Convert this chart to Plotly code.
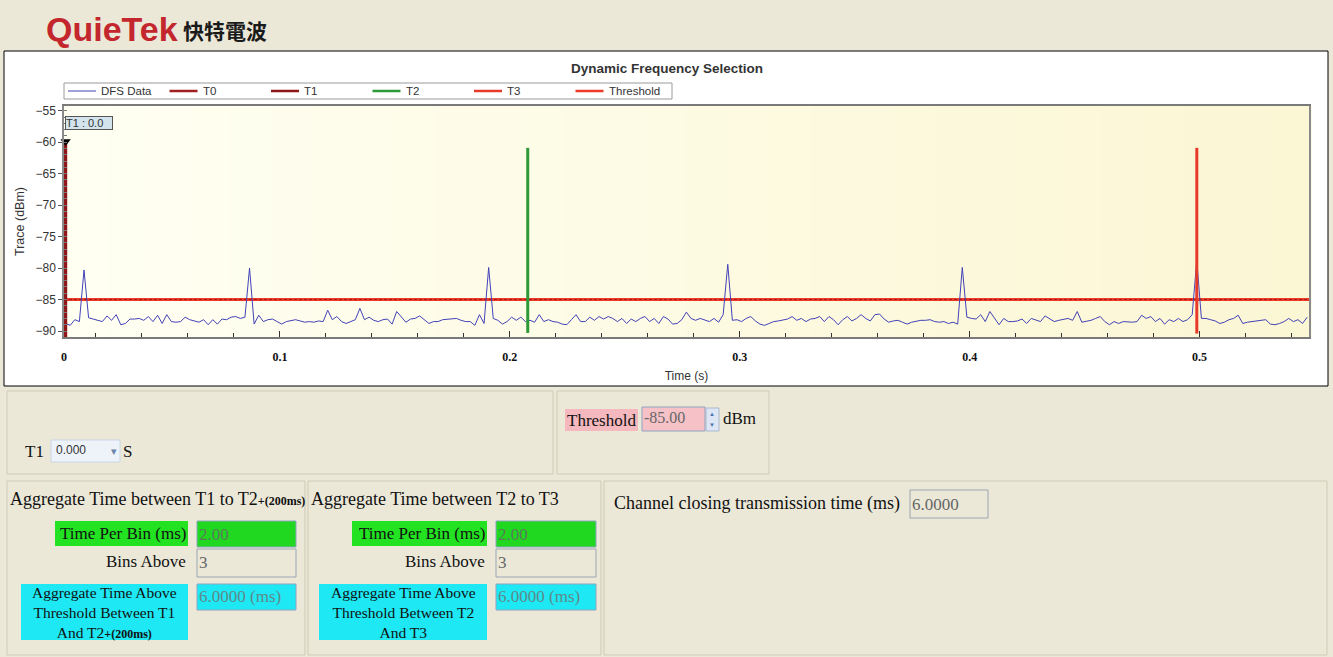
import plotly.graph_objects as go

W, H = 1333, 657

# ------------------------------------------------------------------ data
BIN_MS = 2.00                 # time per bin
T_START_S = 0.0068            # time of first bin
DFS_DBM = [
    -88.8, -89.1, -88.2, -88.5, -80.3, -87.9, -88.1, -88.3, -88.5, -87.6,
    -88.3, -87.4, -89.0, -88.8, -88.1, -88.1, -88.0, -88.3, -87.7, -88.5,
    -87.5, -88.8, -87.4, -88.5, -88.6, -88.5, -87.8, -88.2, -88.4, -88.6,
    -88.2, -89.0, -88.2, -88.9, -88.1, -88.2, -87.8, -87.7, -88.0, -87.8,
    -80.0, -88.9, -87.5, -88.5, -88.2, -88.1, -88.5, -88.9, -88.5, -88.3,
    -88.2, -88.4, -88.6, -88.5, -88.6, -88.4, -88.5, -86.7, -88.2, -87.7,
    -88.5, -88.8, -88.5, -88.2, -86.4, -88.2, -87.8, -88.3, -88.5, -88.2,
    -88.1, -88.9, -86.9, -87.8, -88.6, -88.1, -88.0, -87.6, -88.2, -88.8,
    -88.5, -88.5, -88.2, -88.1, -88.0, -88.0, -88.3, -88.5, -88.5, -89.1,
    -87.4, -88.8, -79.9, -88.0, -88.3, -88.9, -88.5, -87.8, -88.3, -87.8,
    -88.5, -88.3, -88.6, -87.4, -88.5, -88.2, -88.5, -88.6, -88.9, -89.0,
    -88.2, -87.4, -88.5, -88.5, -87.8, -88.3, -87.7, -88.1, -87.7, -88.0,
    -88.5, -88.0, -88.8, -88.1, -88.5, -88.0, -87.7, -88.5, -88.0, -88.8,
    -87.7, -88.1, -88.9, -88.8, -88.2, -87.0, -88.0, -88.3, -88.0, -88.2,
    -88.5, -88.0, -88.6, -87.4, -79.4, -88.3, -88.2, -88.5, -88.0, -87.7,
    -88.4, -88.9, -89.1, -88.8, -88.5, -88.4, -88.2, -88.1, -87.7, -88.3,
    -88.0, -88.5, -88.1, -88.0, -87.7, -88.5, -87.7, -88.2, -89.0, -88.2,
    -87.7, -88.4, -88.0, -87.4, -88.0, -88.4, -87.4, -87.3, -88.1, -88.6,
    -88.4, -88.3, -88.6, -88.9, -88.6, -88.4, -88.3, -88.3, -88.2, -88.5,
    -88.6, -88.5, -88.8, -88.6, -88.9, -79.9, -87.8, -88.0, -88.1, -87.4,
    -88.5, -86.9, -88.0, -89.0, -88.0, -88.5, -88.5, -88.4, -88.1, -88.8,
    -88.0, -88.2, -88.5, -87.6, -88.0, -88.5, -88.3, -88.2, -88.0, -88.3,
    -86.9, -88.6, -88.5, -88.3, -88.0, -87.7, -88.5, -89.0, -88.5, -88.8,
    -88.5, -88.6, -88.6, -88.5, -87.5, -88.0, -87.7, -88.5, -88.0, -88.9,
    -88.2, -88.5, -88.0, -88.5, -88.2, -87.4, -78.8, -88.0, -88.0, -88.2,
    -88.4, -88.8, -88.6, -88.2, -88.0, -87.5, -88.8, -88.6, -88.5, -88.3,
    -88.2, -88.2, -88.9, -89.0, -88.8, -88.5, -88.0, -88.5, -88.2, -88.8,
    -87.8,
]
CURSOR_NAMES = ["T0", "T1", "T2", "T3"]
CURSOR_TIME_S = [0.0068, 0.0068, 0.2078, 0.4988]
CURSOR_TOP_DBM = [-59.9, -59.9, -60.9, -60.9]
CURSOR_BOTTOM_DBM = [-91.0, -91.0, -90.3, -90.4]
THRESHOLD_DBM = -85.0
T1_TAG = "T1 : 0.0"
LEGEND_NAMES = ["DFS Data", "T0", "T1", "T2", "T3", "Threshold"]

X_RANGE = [0.0061, 0.5476]
Y_RANGE = [-90.95, -54.25]
X_TICK_VALS = [0.0061, 0.1, 0.2, 0.3, 0.4, 0.5]
X_TICK_TEXT = ["0", "0.1", "0.2", "0.3", "0.4", "0.5"]
Y_TICK_VALS = [-90, -85, -80, -75, -70, -65, -60, -55]

# panel values
T1_FIELD = "0.000"
THRESHOLD_FIELD = "-85.00"
TIME_PER_BIN_FIELD = ["2.00", "2.00"]
BINS_ABOVE_FIELD = ["3", "3"]
AGG_TIME_FIELD = ["6.0000 (ms)", "6.0000 (ms)"]
CLOSING_TIME_FIELD = "6.0000"

# ------------------------------------------------------------------ styles
SANS = "Liberation Sans, Arial, sans-serif"
SERIF = "Liberation Serif, Times New Roman, serif"
BG = "#EBE8D8"
BOX_LINE = "#CFCBB8"
FIELD_LINE = "#8EA4C0"
GREEN = "#22E222"
CYAN = "#1EE8F4"
CURSOR_COLORS = ["#A02020", "#8E1616", "#2C9A36", "#E83A2A"]
THRESH_COLOR = "#EE3A28"
DFS_COLOR = "#4242B8"
LEGEND_COLORS = [DFS_COLOR] + CURSOR_COLORS + [THRESH_COLOR]
LEGEND_WIDTHS = [1, 2.5, 2.5, 2.5, 2.5, 2.5]

times = [T_START_S + k * BIN_MS / 1000.0 for k in range(len(DFS_DBM))]

fig = go.Figure()

fig.add_trace(go.Scatter(x=X_RANGE, y=[THRESHOLD_DBM, THRESHOLD_DBM], mode="lines",
                         name="Threshold", line=dict(color=THRESH_COLOR, width=3)))
fig.add_trace(go.Scatter(x=X_RANGE, y=[THRESHOLD_DBM, THRESHOLD_DBM], mode="lines",
                         hoverinfo="skip",
                         line=dict(color="#A81818", width=1, dash="3px,2px")))
fig.add_trace(go.Scatter(x=times, y=DFS_DBM, mode="lines", name="DFS Data",
                         line=dict(color=DFS_COLOR, width=1)))
for i, nm in enumerate(CURSOR_NAMES):
    fig.add_trace(go.Scatter(x=[CURSOR_TIME_S[i], CURSOR_TIME_S[i]],
                             y=[CURSOR_BOTTOM_DBM[i], CURSOR_TOP_DBM[i]],
                             mode="lines", name=nm,
                             line=dict(color=CURSOR_COLORS[i], width=3)))
fig.add_trace(go.Scatter(x=[CURSOR_TIME_S[1]], y=[CURSOR_TOP_DBM[1]], mode="markers",
                         cliponaxis=False,
                         marker=dict(symbol="triangle-down", size=9, color="black")))


def fx(x):
    return x / W


def fy(y):
    return 1 - y / H


shapes = []
annots = []


def rect(x0, y0, x1, y1, fill="rgba(0,0,0,0)", line="rgba(0,0,0,0)", lw=1, layer="above"):
    shapes.append(dict(type="rect", xref="paper", yref="paper",
                       x0=fx(x0), x1=fx(x1), y0=fy(y1), y1=fy(y0),
                       fillcolor=fill, line=dict(color=line, width=lw), layer=layer))


def hline(x0, x1, y, color, lw):
    shapes.append(dict(type="line", xref="paper", yref="paper",
                       x0=fx(x0), x1=fx(x1), y0=fy(y), y1=fy(y),
                       line=dict(color=color, width=lw)))


def text(x, y, s, size=17, color="#111", family=SERIF, xanchor="left", align="left",
         weight="normal", **kw):
    annots.append(dict(xref="paper", yref="paper", x=fx(x), y=fy(y), text=s,
                       showarrow=False, xanchor=xanchor, yanchor="middle", align=align,
                       font=dict(size=size, color=color, family=family, weight=weight), **kw))


# chart panel
rect(4, 51, 1328, 386, fill="white", line="black", lw=1, layer="below")

# plot-area gradient
N = 30
c0 = (255, 255, 242)
c1 = (251, 246, 212)
for i in range(N):
    f = i / (N - 1)
    col = "rgb(%d,%d,%d)" % tuple(round(c0[j] + (c1[j] - c0[j]) * f) for j in range(3))
    shapes.append(dict(type="rect", xref="x domain", yref="y domain",
                       x0=i / N, x1=(i + 1) / N + 0.002, y0=0, y1=1,
                       fillcolor=col, line=dict(width=0), layer="below"))

# logo
text(44, 29, "QuieTek", size=34, color="#C4262E", family=SANS, weight="bold")
text(181, 30, "快特電波", size=21, color="#1a1a1a", family="Noto Sans CJK TC", weight="bold")

# chart title
text(667, 68, "Dynamic Frequency Selection", size=13.5, color="#333", family=SANS,
     xanchor="center", weight="bold")

# legend (drawn as a box of samples)
rect(64, 83, 672, 99, fill="white", line="#9A9A9A")
for i, nm in enumerate(LEGEND_NAMES):
    x0 = 68 + i * 101.5
    hline(x0, x0 + 28, 91, LEGEND_COLORS[i], LEGEND_WIDTHS[i])
    text(x0 + 31, 91, nm, size=11.5, color="#333", family=SANS)

# T1 tag
annots.append(dict(xref="paper", yref="paper", x=fx(65), y=fy(122.5), text=T1_TAG,
                   showarrow=False, xanchor="left", yanchor="middle", width=46, align="left",
                   bgcolor="#D3E4EC", bordercolor="#555", borderwidth=1, borderpad=0,
                   font=dict(size=11, color="#333", family=SANS)))

# ---- panel A (T1)
rect(7, 391, 553, 474, line=BOX_LINE)
text(23, 451, "T1", size=17)
rect(51, 440, 120, 462, fill="#EEF3FA", line="#C8D6E6")
text(54, 450, T1_FIELD, size=12, color="#333", family=SANS)
text(114, 451, "▾", size=11, color="#6A84A8", family=SANS, xanchor="center")
text(121, 451, "S", size=17)

# ---- panel B (threshold)
rect(557, 391, 769, 474, line=BOX_LINE)
rect(565, 409, 638, 431, fill="#F4B8BE")
text(565, 420, "Threshold", size=17)
rect(642, 407, 705, 431, fill="#F6C2C7", line=FIELD_LINE)
text(642, 417, THRESHOLD_FIELD, size=16, color="#666")
rect(706, 408, 719, 431, fill="#DCE6F4", line="#AAB8CC")
text(712.5, 414, "▲", size=6, color="#4E74B0", family=SANS, xanchor="center")
text(712.5, 425, "▼", size=6, color="#4E74B0", family=SANS, xanchor="center")
text(721, 418, "dBm", size=17)

# ---- panels C / D (aggregate)
small = "<span style='font-size:12px'><b>+(200ms)</b></span>"
panels = [
    dict(box=(7, 305), title="Aggregate Time between T1 to T2" + small,
         glab=(55, 188), fld=(197, 296), clab=(21, 188),
         cyan="Aggregate Time Above<br>Threshold Between T1<br>And T2" + small),
    dict(box=(308, 601), title="Aggregate Time between T2 to T3",
         glab=(352, 487), fld=(496, 596), clab=(319, 487),
         cyan="Aggregate Time Above<br>Threshold Between T2<br>And T3"),
]
for k, p in enumerate(panels):
    rect(p["box"][0], 481, p["box"][1], 655, line=BOX_LINE)
    text(p["box"][0] + 1, 499, p["title"], size=18)
    rect(p["glab"][0], 521, p["glab"][1], 546, fill=GREEN)
    text(p["glab"][1], 533, "Time Per Bin (ms)", size=17, xanchor="right")
    rect(p["fld"][0], 521, p["fld"][1], 547, fill="#1FD81F", line=FIELD_LINE)
    text(p["fld"][0], 534, TIME_PER_BIN_FIELD[k], size=17, color="#5A7A5A")
    text(p["glab"][1], 561, "Bins Above", size=17, xanchor="right")
    rect(p["fld"][0], 549, p["fld"][1], 577, fill=BG, line="#9AA6B4")
    text(p["fld"][0], 562, BINS_ABOVE_FIELD[k], size=17, color="#666")
    rect(p["clab"][0], 584, p["clab"][1], 640, fill=CYAN)
    text((p["clab"][0] + p["clab"][1]) / 2, 612, p["cyan"], size=15.5, xanchor="center",
         align="center")
    rect(p["fld"][0], 584, p["fld"][1], 610, fill=CYAN, line=FIELD_LINE)
    text(p["fld"][0], 596, AGG_TIME_FIELD[k], size=17, color="#5E8A8A")

# ---- panel E
rect(604, 481, 1327, 655, line=BOX_LINE)
text(612, 503, "Channel closing transmission time (ms)", size=18)
rect(910, 490, 988, 518, fill=BG, line="#9AA6B4")
text(910, 504, CLOSING_TIME_FIELD, size=17, color="#666")

fig.update_layout(
    width=W, height=H, autosize=False, template="none",
    margin=dict(l=0, r=0, t=0, b=0),
    paper_bgcolor=BG, plot_bgcolor="#FEFBE6",
    shapes=shapes, annotations=annots,
    showlegend=False,
    xaxis=dict(domain=[fx(64), fx(1309)], range=X_RANGE, showgrid=False, zeroline=False,
               showline=True, linecolor="#7A7A7A", linewidth=2, mirror=True,
               tickmode="array", tickvals=X_TICK_VALS, ticktext=X_TICK_TEXT,
               ticks="inside", ticklen=6, tickcolor="#333", ticklabelstandoff=8,
               tickfont=dict(family=SERIF, size=12, color="#111", weight="bold"),
               minor=dict(tickmode="linear", tick0=0, dtick=0.02, ticks="inside",
                          ticklen=4, tickcolor="#333", showgrid=False),
               title=dict(text="Time (s)", standoff=8,
                          font=dict(family=SANS, size=12, color="#333")),
               automargin=False),
    yaxis=dict(domain=[fy(337), fy(106)], range=Y_RANGE, showgrid=False, zeroline=False,
               showline=True, linecolor="#8A8A8A", linewidth=1.5, mirror=True,
               tickmode="array", tickvals=Y_TICK_VALS, ticks="outside", ticklen=4,
               tickcolor="#555",
               tickfont=dict(family=SANS, size=12, color="#333"),
               minor=dict(tickmode="linear", tick0=0, dtick=1, ticks="inside",
                          ticklen=3, tickcolor="#777", showgrid=False),
               title=dict(text="Trace (dBm)", standoff=8,
                          font=dict(family=SANS, size=12.5, color="#333")),
               automargin=False),
)

fig.write_html("out.html", config={"displayModeBar": False},
               post_script="document.body.style.margin='0';document.body.style.overflow='hidden';")
